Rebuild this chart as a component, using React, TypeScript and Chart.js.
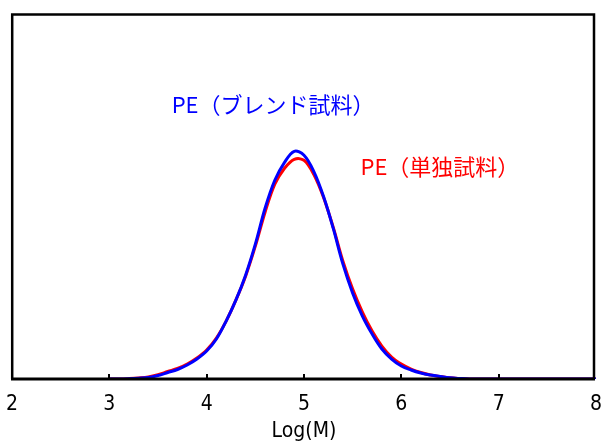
import React, { useEffect, useRef } from "react";
import { Chart, registerables } from "chart.js";

Chart.register(...registerables);

const logM = [
  3.0, 3.1, 3.2, 3.3, 3.4, 3.5, 3.6, 3.7, 3.8, 3.9,
  4.0, 4.1, 4.2, 4.3, 4.4, 4.5, 4.6, 4.7, 4.8, 4.9,
  5.0, 5.1, 5.2, 5.3, 5.4, 5.5, 5.6, 5.7, 5.8, 5.9,
  6.0, 6.1, 6.2, 6.3, 6.4, 6.5, 6.6, 6.7, 6.8, 7.0, 8.0,
];

const blendValues = [
  0, 0, 0.3, 0.8, 1.5, 3.5, 6.5, 9.5, 14, 20,
  28, 40, 58, 79, 104, 135, 171, 199, 217, 228,
  224, 208, 183, 151, 115, 86, 63, 45, 30, 20,
  13, 9, 6, 4, 2.5, 1.2, 0.5, 0, 0, 0, 0,
];

const singleValues = [
  0, 0, 0.4, 1.0, 2.0, 4.3, 7.5, 10.5, 15, 21,
  29, 41, 58, 79, 103, 133, 167, 195, 211, 220,
  219, 205, 182, 152, 118, 90, 67, 48, 33, 22,
  15, 10, 6.5, 4, 2.5, 1.2, 0.5, 0, 0, 0, 0,
];

const xTicks = [2, 3, 4, 5, 6, 7, 8];

const blendLabel = "PE（ブレンド試料）";
const singleLabel = "PE（単独試料）";
const blendLabelPos = { x: 3.64, y: 275 };
const singleLabelPos = { x: 5.58, y: 213 };

const frameAndLabels = {
  id: "frameAndLabels",
  afterDraw(chart: any) {
    const { ctx, chartArea } = chart;
    const xs = chart.scales.x;
    const ys = chart.scales.y;
    ctx.save();
    ctx.strokeStyle = "#000";
    ctx.lineWidth = 2.5;
    ctx.beginPath();
    ctx.moveTo(12.2, chartArea.bottom);
    ctx.lineTo(12.2, chartArea.top);
    ctx.lineTo(594, chartArea.top);
    ctx.lineTo(594, chartArea.bottom);
    ctx.stroke();
    ctx.lineWidth = 3;
    ctx.beginPath();
    ctx.moveTo(11, chartArea.bottom);
    ctx.lineTo(595, chartArea.bottom);
    ctx.stroke();
    ctx.lineWidth = 2;
    for (const t of xTicks.slice(1, -1)) {
      const px = Math.round(xs.getPixelForValue(t));
      ctx.beginPath();
      ctx.moveTo(px, chartArea.bottom);
      ctx.lineTo(px, chartArea.bottom - 5);
      ctx.stroke();
    }
    ctx.font = '22px "Noto Sans CJK JP", "Noto Sans", sans-serif';
    ctx.textBaseline = "middle";
    ctx.textAlign = "left";
    ctx.fillStyle = "#0000ff";
    ctx.fillText(blendLabel, xs.getPixelForValue(blendLabelPos.x), ys.getPixelForValue(blendLabelPos.y));
    ctx.fillStyle = "#ff0000";
    ctx.fillText(singleLabel, xs.getPixelForValue(singleLabelPos.x), ys.getPixelForValue(singleLabelPos.y));
    ctx.restore();
  },
};

export default function App() {
  const ref = useRef<HTMLCanvasElement>(null);
  useEffect(() => {
    if (!ref.current) return;
    const chart = new Chart(ref.current, {
      type: "line",
      data: {
        datasets: [
          {
            label: blendLabel,
            data: logM.map((x, i) => ({ x, y: blendValues[i] })),
            borderColor: "#0000ff",
            borderWidth: 3,
            pointRadius: 0,
            tension: 0.35,
            fill: false,
          },
          {
            label: singleLabel,
            data: logM.map((x, i) => ({ x, y: singleValues[i] })),
            borderColor: "#ff0000",
            borderWidth: 3,
            pointRadius: 0,
            tension: 0.35,
            fill: false,
          },
        ],
      },
      options: {
        animation: false,
        responsive: false,
        maintainAspectRatio: false,
        layout: { padding: { left: 12, right: 5, top: 14.5, bottom: 0 } },
        plugins: { legend: { display: false }, tooltip: { enabled: false } },
        scales: {
          x: {
            type: "linear",
            min: 2,
            max: 8,
            afterBuildTicks: (scale: any) => {
              scale.ticks = xTicks.map((v) => ({ value: v }));
            },
            afterFit: (scale: any) => {
              scale.height = 63;
              scale.paddingLeft = 0;
              scale.paddingRight = 0;
            },
            grid: { display: false, drawTicks: false },
            border: { display: false },
            ticks: {
              padding: 13,
              maxRotation: 0,
              autoSkip: false,
              color: "#000",
              font: { family: '"Liberation Sans Narrow", "DejaVu Sans Condensed", sans-serif', size: 21 },
            },
            title: {
              display: true,
              text: "Log(M)",
              color: "#000",
              padding: { top: 0, bottom: 0 },
              font: { family: '"Liberation Sans Narrow", "DejaVu Sans Condensed", sans-serif', size: 21, lineHeight: 1.0 },
            },
          },
          y: {
            display: false,
            min: 0,
            max: 365,
          },
        },
      },
      plugins: [frameAndLabels],
    });
    return () => chart.destroy();
  }, []);
  return (
    <div style={{ position: "absolute", left: 0, top: 0, width: 601, height: 442, background: "#fff" }}>
      <canvas ref={ref} width={601} height={442} style={{ width: 601, height: 442 }} />
    </div>
  );
}
